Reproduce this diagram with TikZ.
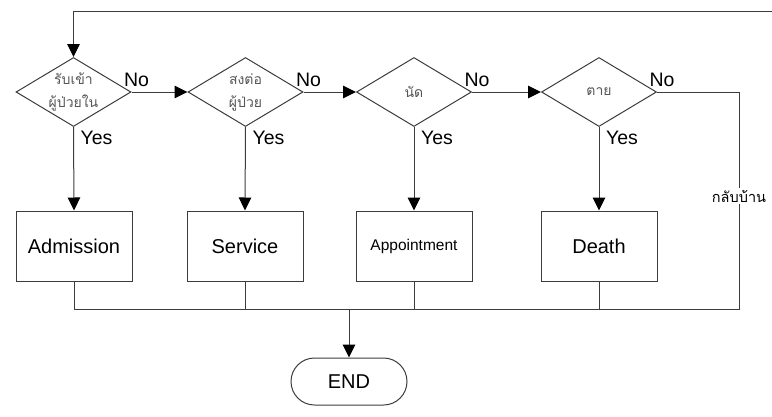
\documentclass[tikz,border=0pt]{standalone}
\usepackage{fontspec}
\setmainfont{Liberation Sans}
\newfontfamily\thaifont[Script=Thai]{Loma}
\usetikzlibrary{shapes.geometric,shapes.misc,arrows.meta,calc}
\definecolor{linegray}{RGB}{60,60,60}
\definecolor{thaigray}{RGB}{85,85,85}
\begin{document}
\begin{tikzpicture}[x=1pt,y=-1pt,
  flow/.style={draw=linegray,line width=1pt},
  arrow/.style={flow,-{Triangle[length=13pt,width=12.5pt,fill=black,color=black]}},
  decision/.style={draw=linegray,line width=1pt,diamond,aspect=1.67,inner sep=0pt,
    minimum width=115pt,minimum height=69pt,align=center,
    font=\thaifont\fontsize{14}{23}\selectfont,text=thaigray},
  process/.style={draw=linegray,line width=1pt,rectangle,minimum width=116pt,minimum height=70pt,
    inner sep=0pt,font=\fontsize{20}{24}\selectfont},
  terminal/.style={draw=linegray,line width=1pt,rounded rectangle,minimum width=116pt,
    minimum height=47pt,inner sep=0pt,font=\fontsize{20}{24}\selectfont},
  answer/.style={font=\fontsize{19.5}{22}\selectfont,inner sep=0pt},
]
\useasboundingbox (0,0) rectangle (772,416);

% decisions
\node[decision] (d1) at (73.5,92) {รับเข้า\\ผู้ป่วยใน};
\node[decision] (d2) at (245.5,92) {สงต่อ\\ผู้ป่วย};
\node[decision] (d3) at (414,92) {นัด};
\node[decision] (d4) at (599,92) {ตาย};

% outcomes
\node[process] (b1) at (74,246) {Admission};
\node[process] (b2) at (245,246) {Service};
\node[process,font=\fontsize{15.5}{18}\selectfont] (b3) at (414,246) {Appointment};
\node[process] (b4) at (599,246) {Death};

\node[terminal] (end) at (349,381.5) {END};

% routing points
\coordinate (topR) at (772,11);
\coordinate (topL) at (73.5,11);
\coordinate (turn) at (739,92);
\coordinate (busR) at (739,309);
\coordinate (busL) at (74,309);
\coordinate (join) at (349,309);

% answer labels
\node[answer] (n1) at ($(d1.east)+(5,-12)$) {No};
\node[answer] (n2) at ($(d2.east)+(5,-12)$) {No};
\node[answer] (n3) at ($(d3.east)+(5,-12)$) {No};
\node[answer] (n4) at ($(d4.east)+(5,-12)$) {No};
\node[answer] (y1) at ($(d1.south)+(23,11)$) {Yes};
\node[answer] (y2) at ($(d2.south)+(23,11)$) {Yes};
\node[answer] (y3) at ($(d3.south)+(23,11)$) {Yes};
\node[answer] (y4) at ($(d4.south)+(23,11)$) {Yes};

% loop back to the first decision
\draw[arrow] (topR) -- (topL) -- (d1.north);

% "No" chain
\draw[arrow] (d1.east) -- (d2.west);
\draw[arrow] (d2.east) -- (d3.west);
\draw[arrow] (d3.east) -- (d4.west);

% "Yes" branches
\draw[arrow] (d1.south) -- (b1.north);
\draw[arrow] (d2.south) -- (b2.north);
\draw[arrow] (d3.south) -- (b3.north);
\draw[arrow] (d4.south) -- (b4.north);

% discharge path and collecting bus
\draw[flow] (d4.east) -- (turn) -- node[pos=0.48,fill=white,inner sep=2pt,
  font=\thaifont\fontsize{14.5}{16}\selectfont] (home) {กลับบ้าน} (busR) -- (busL) -- (b1.south);
\draw[flow] (b2.south) -- (b2.south |- busL);
\draw[flow] (b3.south) -- (b3.south |- busL);
\draw[flow] (b4.south) -- (b4.south |- busL);
\draw[arrow] (join) -- (end.north);
\end{tikzpicture}
\end{document}
